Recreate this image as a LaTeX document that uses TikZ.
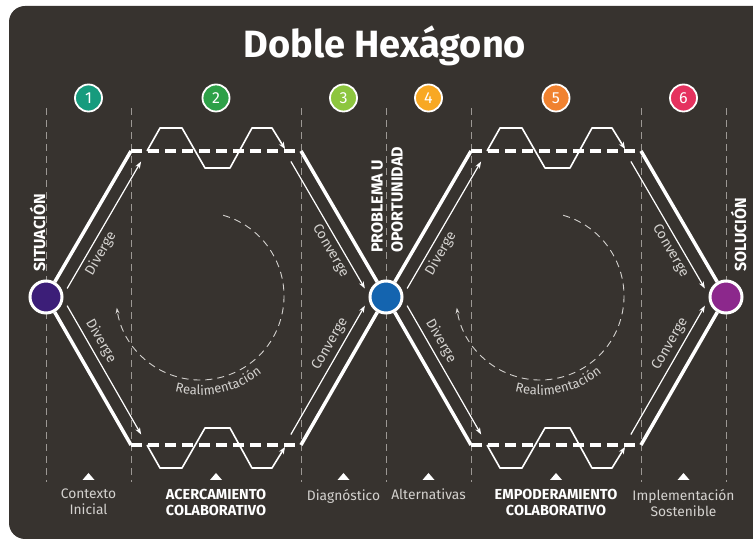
\documentclass[tikz,border=0pt]{standalone}
\usepackage{fontspec}
\setmainfont{Fira Sans}
\usetikzlibrary{arrows, arrows.meta, calc, decorations.text}
\definecolor{panel}{HTML}{37332F}
\definecolor{guidegray}{HTML}{9C9894}
\definecolor{lblgray}{HTML}{D4D2CF}
\definecolor{cone}{HTML}{169B7D}
\definecolor{ctwo}{HTML}{2EA048}
\definecolor{cthree}{HTML}{8DC63F}
\definecolor{cfour}{HTML}{F8A823}
\definecolor{cfive}{HTML}{F08230}
\definecolor{csix}{HTML}{E5325F}
\definecolor{csit}{HTML}{3C1E78}
\definecolor{cprob}{HTML}{1464AF}
\definecolor{csol}{HTML}{8C288C}
\tikzstyle{guide} = [guidegray, line width=1pt, dash pattern=on 7pt off 5pt]
\tikzstyle{hexside} = [white, line width=3.5pt]
\tikzstyle{hexdash} = [white, line width=3.5pt, dash pattern=on 11pt off 6pt]
\tikzstyle{wave} = [white, line width=1.6pt, line join=round, ->, >={Stealth[length=7pt,width=5.5pt]}]
\tikzstyle{arrow} = [white, line width=1.2pt, ->, >={Stealth[length=7pt,width=5pt]}]
\tikzstyle{feedback} = [lblgray, line width=0.9pt, dash pattern=on 7pt off 5pt, ->, >={Stealth[length=6pt,width=4pt]}]
\tikzstyle{hexnode} = [circle, draw=white, line width=3pt, minimum size=32pt, inner sep=0pt]
\tikzstyle{numnode} = [circle, draw=white, line width=1.8pt, minimum size=27pt, inner sep=0pt, text=white, font=\fontsize{16}{16}\selectfont]
\tikzstyle{lbl} = [text=lblgray, font=\fontsize{14}{16}\selectfont, inner sep=4pt]
\tikzstyle{vtitle} = [text=white, font=\bfseries\fontsize{16}{20}\selectfont, rotate=90, inner sep=0pt, anchor=west, align=left]
\tikzstyle{stage} = [text=lblgray, font=\fontsize{13.8}{16}\selectfont, anchor=north, align=center, inner sep=0pt]
\tikzstyle{phase} = [stage, text=white, font=\bfseries\fontsize{14.5}{16}\selectfont]

\begin{document}
\begin{tikzpicture}[x=1pt, y=1pt]
\useasboundingbox (0,0) rectangle (753,540);
\fill[panel, rounded corners=16pt] (9,1) rectangle (800,534);

\node (title) [text=white, font=\bfseries\fontsize{38}{38}\selectfont] at (385,494) {Doble Hexágono};

% columns
\foreach \gx in {46,131,301,386,471,641,726}
  \draw[guide] (\gx,432) -- (\gx,58);
\foreach \i/\cx/\col in {1/88.5/cone, 2/216/ctwo, 3/343.5/cthree, 4/428.5/cfour, 5/556/cfive, 6/683.5/csix}
  \node (n\i) [numnode, fill=\col] at (\cx,442) {\i};

% hexagons
\coordinate (tl1) at (131,389);
\coordinate (tr1) at (301,389);
\coordinate (bl1) at (131,95);
\coordinate (br1) at (301,95);
\coordinate (tl2) at (471,389);
\coordinate (tr2) at (641,389);
\coordinate (bl2) at (471,95);
\coordinate (br2) at (641,95);
\node (sit) [hexnode, fill=csit] at (46,243) {};
\node (prob) [hexnode, fill=cprob] at (386,243) {};
\node (sol) [hexnode, fill=csol] at (726,243) {};

\draw [hexside] (sit) -- (tl1);
\draw [hexside] (sit) -- (bl1);
\draw [hexside] (tr1) -- (prob);
\draw [hexside] (br1) -- (prob);
\draw [hexside] (prob) -- (tl2);
\draw [hexside] (prob) -- (bl2);
\draw [hexside] (tr2) -- (sol);
\draw [hexside] (br2) -- (sol);
\foreach \i in {1,2} {
  \draw [hexdash] (tl\i) -- (tr\i);
  \draw [hexdash] (bl\i) -- (br\i);
  \draw [wave] ($(tl\i)+(16,0)$) -- ++(13,23) -- ++(22,0) -- ++(23,-40) -- ++(25,0) -- ++(22,40) -- ++(20,0) -- ++(13,-21);
  \draw [wave] ($(bl\i)+(16,0)$) -- ++(13,-23) -- ++(22,0) -- ++(23,40) -- ++(25,0) -- ++(22,-40) -- ++(20,0) -- ++(13,21);
}

% thin arrows along the sides
\foreach \c/\k/\r/\rr/\n in {sit/tl1/-90/90/a, sit/bl1/90/-90/b, prob/tr1/90/-90/c, prob/br1/-90/90/d,
    prob/tl2/-90/90/e, prob/bl2/90/-90/f, sol/tr2/90/-90/g, sol/br2/-90/90/h} {
  \coordinate (\n1) at ($(\c)!18pt!(\k)!14pt!\r:(\k)$);
  \coordinate (\n2) at ($(\k)!4pt!(\c)!14pt!\rr:(\c)$);
}
\draw [arrow] (a1) -- node[lbl, sloped, below, pos=.32] {Diverge} (a2);
\draw [arrow] (b1) -- node[lbl, sloped, above, pos=.32] {Diverge} (b2);
\draw [arrow] (c2) -- node[lbl, sloped, below, pos=.66] {Converge} (c1);
\draw [arrow] (d2) -- node[lbl, sloped, above, pos=.66] {Converge} (d1);
\draw [arrow] (e1) -- node[lbl, sloped, below, pos=.32] {Diverge} (e2);
\draw [arrow] (f1) -- node[lbl, sloped, above, pos=.32] {Diverge} (f2);
\draw [arrow] (g2) -- node[lbl, sloped, below, pos=.66] {Converge} (g1);
\draw [arrow] (h2) -- node[lbl, sloped, above, pos=.66] {Converge} (h1);

% feedback loops
\coordinate (fb1) at ($(sit)!.5!(prob)+(-16,1)$);
\coordinate (fb2) at ($(prob)!.5!(sol)+(-16,1)$);
\foreach \i in {1,2} {
  \draw [feedback] (fb\i) ++(74:84) arc[start angle=74, end angle=-172, radius=84];
  \path [decorate, decoration={text along path, text align=center, text color=lblgray,
      text={|\fontsize{13}{15}\selectfont|Realimentación}}]
    (fb\i) ++(-118:99) arc[start angle=-118, end angle=-38, radius=99];
}

% vertical titles
\node (sittext) [vtitle] at (37.5,268) {SITUACIÓN};
\node (probtext) [vtitle] at (387,287) {PROBLEMA U\\OPORTUNIDAD};
\node (soltext) [vtitle] at (738.5,268) {SOLUCIÓN};

% stages
\foreach \tx in {88.5,216,343.5,428.5,556,683.5}
  \fill[white] (\tx-6,60) -- (\tx+6,60) -- (\tx,67) -- cycle;
\node (s1) [stage] at (88.5,51) {Contexto\\Inicial};
\node (s2) [phase] at (216,51) {ACERCAMIENTO\\COLABORATIVO};
\node (s3) [stage] at (343.5,51) {Diagnóstico};
\node (s4) [stage] at (428.5,51) {Alternativas};
\node (s5) [phase] at (556,51) {EMPODERAMIENTO\\COLABORATIVO};
\node (s6) [stage] at (683.5,51) {Implementación\\Sostenible};
\end{tikzpicture}
\end{document}
